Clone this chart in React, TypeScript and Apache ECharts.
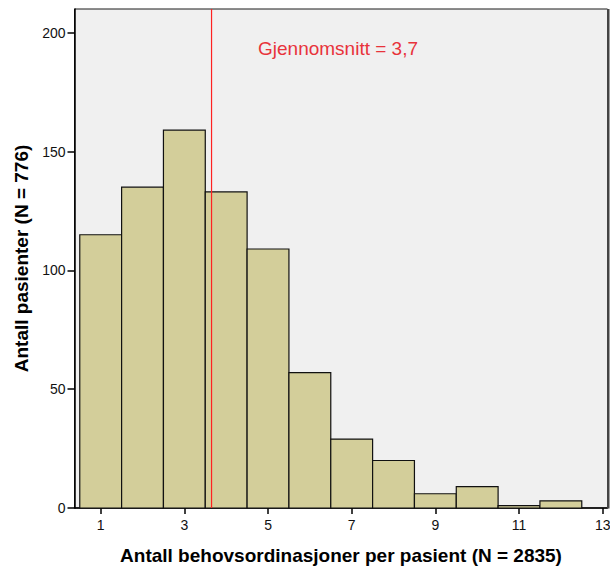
import React, { useEffect, useRef } from "react";
import * as echarts from "echarts";

// Number of as-needed prescriptions per patient (1..12) and patient counts
const categories = [1, 2, 3, 4, 5, 6, 7, 8, 9, 10, 11, 12];
const patients = [115, 135, 159, 133, 109, 57, 29, 20, 6, 9, 1, 3];
const xTickValues = [1, 3, 5, 7, 9, 11, 13];
const yTickValues = [0, 50, 100, 150, 200];
const MEAN = 3.65;
const meanLabel = "Gjennomsnitt = 3,7";

const FONT = "'Liberation Sans', Arial, sans-serif";
const MEAN_COLOR = "#ff2222";

export default function App() {
  const ref = useRef<HTMLDivElement>(null);

  useEffect(() => {
    document.body.style.margin = "0";
    if (!ref.current) return;
    const chart = echarts.init(ref.current, null, { renderer: "svg" });

    const data = categories.map((c, i) => [c, patients[i]]);

    chart.setOption({
      animation: false,
      textStyle: { fontFamily: FONT },
      grid: {
        left: 74.5,
        right: 2.5,
        top: 9,
        bottom: 58,
        outerBoundsMode: "none",
        containLabel: false,
        show: true,
        backgroundColor: "#f0f0f0",
        borderColor: "#1a1a1a",
        borderWidth: 1,
      },
      xAxis: {
        type: "value",
        min: 0.374,
        max: 13.115,
        name: "Antall behovsordinasjoner per pasient (N = 2835)",
        nameLocation: "middle",
        nameGap: 38,
        nameTextStyle: { fontFamily: FONT, fontSize: 19, fontWeight: "bold", color: "#000" },
        axisLine: { show: true, lineStyle: { color: "#000", width: 1.5 } },
        axisTick: { show: true, length: 6, customValues: xTickValues, lineStyle: { color: "#000", width: 1.5 } },
        axisLabel: { customValues: xTickValues, margin: 10, fontSize: 14, color: "#111", fontFamily: FONT },
        splitLine: { show: false },
      },
      yAxis: {
        type: "value",
        min: 0,
        max: 210,
        name: "Antall pasienter (N = 776)",
        nameLocation: "middle",
        nameGap: 43,
        nameTextStyle: { fontFamily: FONT, fontSize: 19, fontWeight: "bold", color: "#000" },
        axisLine: { show: true, lineStyle: { color: "#000", width: 1.5 } },
        axisTick: { show: true, length: 7, customValues: yTickValues, lineStyle: { color: "#000", width: 1.5 } },
        axisLabel: { customValues: yTickValues, margin: 9, fontSize: 14, color: "#111", fontFamily: FONT },
        splitLine: { show: false },
      },
      series: [
        {
          type: "custom",
          data,
          encode: { x: 0, y: 1 },
          renderItem: (params: any, api: any) => {
            const x = api.value(0);
            const y = api.value(1);
            const p0 = api.coord([x - 0.5, 0]);
            const p1 = api.coord([x + 0.5, y]);
            return {
              type: "rect",
              shape: { x: p0[0], y: p1[1], width: p1[0] - p0[0], height: p0[1] - p1[1] },
              style: { fill: "#d3ce9a", stroke: "#111", lineWidth: 1.2 },
            };
          },
          z: 2,
        },
        {
          // mean marker
          type: "line",
          color: MEAN_COLOR,
          data: [
            [MEAN, 0],
            [MEAN, 210],
          ],
          symbol: "none",
          silent: true,
          itemStyle: { color: MEAN_COLOR },
          lineStyle: { color: MEAN_COLOR, width: 1.2, opacity: 1 },
          z: 5,
        },
      ],
      graphic: [
        {
          type: "text",
          left: 258,
          top: 39,
          style: { text: meanLabel, fill: "#e8333b", font: `19px ${FONT}` },
          z: 10,
        },
        {
          // darker right edge of the plot frame
          type: "rect",
          shape: { x: 607, y: 9, width: 2.5, height: 499.5 },
          style: { fill: "#444" },
          z: 10,
        },
      ],
    });

    return () => chart.dispose();
  }, []);

  return <div ref={ref} style={{ width: 610, height: 566 }} />;
}
